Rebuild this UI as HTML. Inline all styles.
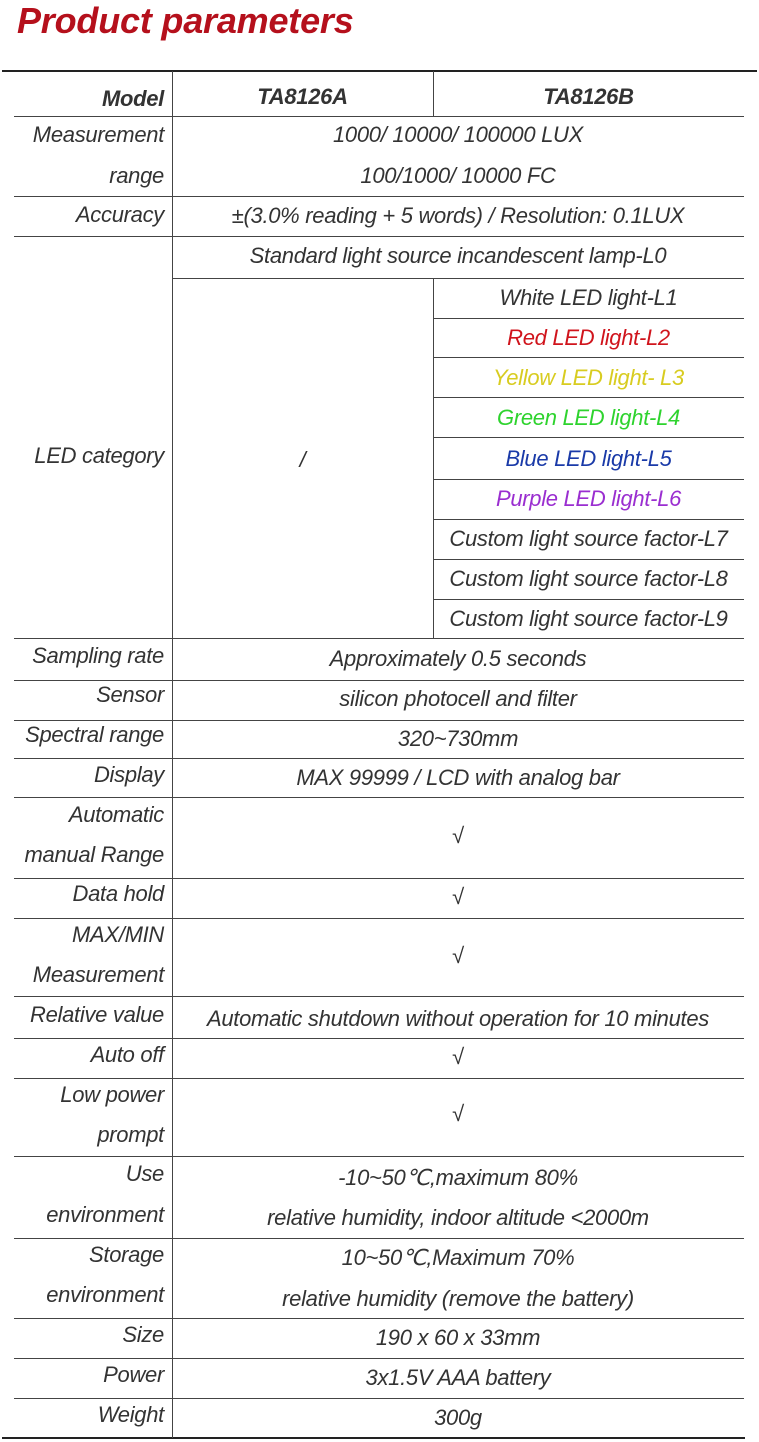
<!DOCTYPE html>
<html><head><meta charset="utf-8"><style>
body{margin:0;width:759px;height:1442px;background:#fff;position:relative;overflow:hidden;font-family:"Liberation Sans",sans-serif;}
.t{position:absolute;font-style:italic;font-size:22px;color:#333;line-height:40px;height:40px;white-space:nowrap;letter-spacing:-0.3px}
.l{right:595px;text-align:right}
.h{position:absolute;height:1px;background:#444}
.v{position:absolute;width:1px;background:#444}
</style></head><body>
<div style="position:absolute;left:17px;top:-1px;font-size:36px;font-weight:bold;font-style:italic;color:#b5101c;line-height:44px;letter-spacing:-0.2px">Product parameters</div>
<div class="h" style="left:2px;width:755px;top:70px;height:2px;background:#222"></div>
<div class="h" style="left:2px;width:743px;top:1437px;height:2px;background:#222"></div>
<div class="v" style="left:172px;top:71px;height:1367px"></div>
<div class="v" style="left:433px;top:71px;height:45px"></div>
<div class="v" style="left:433px;top:278px;height:360px"></div>
<div class="h" style="left:14px;width:730px;top:116px"></div>
<div class="h" style="left:14px;width:730px;top:196px"></div>
<div class="h" style="left:14px;width:730px;top:236px"></div>
<div class="h" style="left:172px;width:572px;top:278px"></div>
<div class="h" style="left:433px;width:311px;top:318px"></div>
<div class="h" style="left:433px;width:311px;top:357px"></div>
<div class="h" style="left:433px;width:311px;top:397px"></div>
<div class="h" style="left:433px;width:311px;top:437px"></div>
<div class="h" style="left:433px;width:311px;top:479px"></div>
<div class="h" style="left:433px;width:311px;top:519px"></div>
<div class="h" style="left:433px;width:311px;top:559px"></div>
<div class="h" style="left:433px;width:311px;top:599px"></div>
<div class="h" style="left:14px;width:730px;top:638px"></div>
<div class="h" style="left:14px;width:730px;top:680px"></div>
<div class="h" style="left:14px;width:730px;top:720px"></div>
<div class="h" style="left:14px;width:730px;top:758px"></div>
<div class="h" style="left:14px;width:730px;top:797px"></div>
<div class="h" style="left:14px;width:730px;top:878px"></div>
<div class="h" style="left:14px;width:730px;top:918px"></div>
<div class="h" style="left:14px;width:730px;top:996px"></div>
<div class="h" style="left:14px;width:730px;top:1038px"></div>
<div class="h" style="left:14px;width:730px;top:1078px"></div>
<div class="h" style="left:14px;width:730px;top:1156px"></div>
<div class="h" style="left:14px;width:730px;top:1238px"></div>
<div class="h" style="left:14px;width:730px;top:1318px"></div>
<div class="h" style="left:14px;width:730px;top:1358px"></div>
<div class="h" style="left:14px;width:730px;top:1398px"></div>

<div class="t l" style="top:79px;font-weight:bold">Model</div>
<div class="t" style="top:77px;left:172px;width:261px;text-align:center;font-weight:bold">TA8126A</div>
<div class="t" style="top:77px;left:433px;width:311px;text-align:center;font-weight:bold">TA8126B</div>
<div class="t l" style="top:115px">Measurement</div>
<div class="t l" style="top:156px">range</div>
<div class="t" style="top:115px;left:172px;width:572px;text-align:center">1000/ 10000/ 100000 LUX</div>
<div class="t" style="top:156px;left:172px;width:572px;text-align:center">100/1000/ 10000 FC</div>
<div class="t l" style="top:195px">Accuracy</div>
<div class="t" style="top:196px;left:172px;width:572px;text-align:center">±(3.0% reading + 5 words) / Resolution: 0.1LUX</div>
<div class="t" style="top:236px;left:172px;width:572px;text-align:center">Standard light source incandescent lamp-L0</div>
<div class="t l" style="top:436px">LED category</div>
<div class="t" style="top:440px;left:172px;width:261px;text-align:center">/</div>
<div class="t" style="top:278px;left:433px;width:311px;text-align:center">White LED light-L1</div>
<div class="t" style="top:318px;left:433px;width:311px;text-align:center;color:#d0141c">Red LED light-L2</div>
<div class="t" style="top:358px;left:433px;width:311px;text-align:center;color:#d8cc20">Yellow LED light- L3</div>
<div class="t" style="top:398px;left:433px;width:311px;text-align:center;color:#2ed32e">Green LED light-L4</div>
<div class="t" style="top:439px;left:433px;width:311px;text-align:center;color:#1a3aa8">Blue LED light-L5</div>
<div class="t" style="top:479px;left:433px;width:311px;text-align:center;color:#9a2ed0">Purple LED light-L6</div>
<div class="t" style="top:519px;left:433px;width:311px;text-align:center">Custom light source factor-L7</div>
<div class="t" style="top:559px;left:433px;width:311px;text-align:center">Custom light source factor-L8</div>
<div class="t" style="top:599px;left:433px;width:311px;text-align:center">Custom light source factor-L9</div>
<div class="t l" style="top:636px">Sampling rate</div>
<div class="t" style="top:639px;left:172px;width:572px;text-align:center">Approximately 0.5 seconds</div>
<div class="t l" style="top:675px">Sensor</div>
<div class="t" style="top:679px;left:172px;width:572px;text-align:center">silicon photocell and filter</div>
<div class="t l" style="top:715px">Spectral range</div>
<div class="t" style="top:719px;left:172px;width:572px;text-align:center">320~730mm</div>
<div class="t l" style="top:755px">Display</div>
<div class="t" style="top:758px;left:172px;width:572px;text-align:center">MAX 99999 / LCD with analog bar</div>
<div class="t l" style="top:795px">Automatic</div>
<div class="t l" style="top:835px">manual Range</div>
<div class="t" style="top:816px;left:172px;width:572px;text-align:center">√</div>
<div class="t l" style="top:874px">Data hold</div>
<div class="t" style="top:877px;left:172px;width:572px;text-align:center">√</div>
<div class="t l" style="top:915px">MAX/MIN</div>
<div class="t l" style="top:955px">Measurement</div>
<div class="t" style="top:936px;left:172px;width:572px;text-align:center">√</div>
<div class="t l" style="top:995px">Relative value</div>
<div class="t" style="top:999px;left:172px;width:572px;text-align:center">Automatic shutdown without operation for 10 minutes</div>
<div class="t l" style="top:1035px">Auto off</div>
<div class="t" style="top:1037px;left:172px;width:572px;text-align:center">√</div>
<div class="t l" style="top:1075px">Low power</div>
<div class="t l" style="top:1115px">prompt</div>
<div class="t" style="top:1094px;left:172px;width:572px;text-align:center">√</div>
<div class="t l" style="top:1154px">Use</div>
<div class="t l" style="top:1195px">environment</div>
<div class="t" style="top:1158px;left:172px;width:572px;text-align:center">-10~50℃,maximum 80%</div>
<div class="t" style="top:1198px;left:172px;width:572px;text-align:center">relative humidity, indoor altitude &lt;2000m</div>
<div class="t l" style="top:1235px">Storage</div>
<div class="t l" style="top:1275px">environment</div>
<div class="t" style="top:1238px;left:172px;width:572px;text-align:center">10~50℃,Maximum 70%</div>
<div class="t" style="top:1279px;left:172px;width:572px;text-align:center">relative humidity (remove the battery)</div>
<div class="t l" style="top:1315px">Size</div>
<div class="t" style="top:1318px;left:172px;width:572px;text-align:center">190 x 60 x 33mm</div>
<div class="t l" style="top:1355px">Power</div>
<div class="t" style="top:1358px;left:172px;width:572px;text-align:center">3x1.5V AAA battery</div>
<div class="t l" style="top:1395px">Weight</div>
<div class="t" style="top:1398px;left:172px;width:572px;text-align:center">300g</div>
</body></html>
